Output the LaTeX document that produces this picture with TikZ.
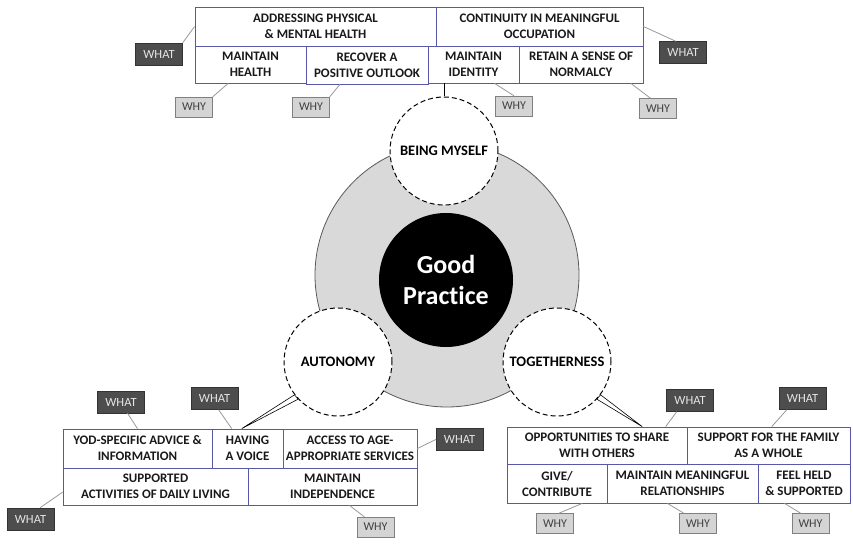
\documentclass[tikz,border=0pt]{standalone}
\usepackage{fontspec}
\setmainfont{Carlito}[Ligatures=NoCommon]
\usetikzlibrary{calc}
\definecolor{cellline}{RGB}{88,88,168}
\definecolor{whatfill}{RGB}{77,77,77}
\definecolor{whyfill}{RGB}{212,212,212}
\definecolor{ringfill}{RGB}{217,217,217}
\tikzset{cell/.style={draw=cellline, line width=0.8pt, fill=white, align=center,
    inner sep=0pt, text=black!90, font=\bfseries\fontsize{13}{16}\selectfont},
  whatbox/.style={draw=black!80, fill=whatfill, text=black!10, minimum width=47pt,
    minimum height=22pt, inner sep=0pt, font=\fontsize{12.5}{14}\selectfont},
  whybox/.style={draw=black!50, fill=whyfill, text=black!75, minimum width=37pt,
    minimum height=20pt, inner sep=0pt, font=\fontsize{12}{14}\selectfont},
  theme/.style={circle, draw, dash pattern=on 5pt off 3pt, line width=1pt, fill=white,
    minimum size=108pt, inner sep=0pt, font=\bfseries\fontsize{14.5}{17}\selectfont},
  link/.style={draw=black!40, line width=0.8pt},
  pointer/.style={draw, fill=white, line width=0.6pt}}

\begin{document}
\begin{tikzpicture}[x=1pt,y=-1pt]
        \useasboundingbox[fill=white] (0,0) rectangle (853,545);
        % rings
        \draw[fill=ringfill, draw=black!65, line width=0.8pt] (447,275) circle (132);
        \node[circle, fill=black, minimum size=134pt, text=white, align=center,
          font=\bfseries\fontsize{26}{31}\selectfont] (good) at (446,280) {Good\\Practice};
        \node[theme] (bm) at (444,151) {BEING MYSELF};
        \node[theme] (auto) at (338,362) {AUTONOMY};
        \node[theme] (tog) at (557,362) {TOGETHERNESS};

        % being myself
        \node[cell, minimum width=241pt, minimum height=39pt] (addr) at (315.5,26.5)
        {ADDRESSING PHYSICAL\\\& MENTAL HEALTH};
        \node[cell, minimum width=207pt, minimum height=39pt] (cont) at (539.5,26.5)
        {CONTINUITY IN MEANINGFUL\\OCCUPATION};
        \node[cell, minimum width=111pt, minimum height=37pt] (mhealth) at (250.5,64.5)
        {MAINTAIN\\HEALTH};
        \node[cell, minimum width=122pt, minimum height=38pt] (recover) at (367,65)
        {RECOVER A\\POSITIVE OUTLOOK};
        \node[cell, minimum width=91pt, minimum height=37pt] (ident) at (473.5,64.5)
        {MAINTAIN\\IDENTITY};
        \node[cell, minimum width=124pt, minimum height=37pt] (normal) at (581,64.5)
        {RETAIN A SENSE OF\\NORMALCY};
        \node[whatbox] (wA) at (159,54) {WHAT};
        \node[whatbox] (wC) at (683,52.5) {WHAT};
        \node[whybox] (yHealth) at (194,107) {WHY};
        \node[whybox] (yRecover) at (311,107) {WHY};
        \node[whybox] (yIdent) at (514,106) {WHY};
        \node[whybox] (yNormal) at (658,108.5) {WHY};
        \draw[link] (wA.north east) -- (addr.west);
        \draw[link] (cont.east) -- ($(wC.north west)!.35!(wC.north east)$);
        \draw[link] (yHealth.north east) -- ($(mhealth.south west)!.3!(mhealth.south east)$);
        \draw[link] (yRecover.north east) -- ($(recover.south west)!.28!(recover.south east)$);
        \draw[link] ($(ident.south west)!.73!(ident.south east)$) -- (yIdent.north);
        \draw[link] ($(normal.south west)!.9!(normal.south east)$) -- ($(yNormal.north west)!.3!(yNormal.north east)$);
        \draw[line width=0.8pt] (bm.north) -- (bm.north |- ident.south);

        % autonomy
        \node[cell, minimum width=149pt, minimum height=39pt] (yod) at (137.5,448.5)
        {YOD-SPECIFIC ADVICE \&\\INFORMATION};
        \node[cell, minimum width=71pt, minimum height=39pt] (voice) at (247.5,448.5)
        {HAVING\\A VOICE};
        \node[cell, draw=black!60, minimum width=134pt, minimum height=39pt] (access) at (350,448.5)
        {ACCESS TO AGE-\\APPROPRIATE SERVICES};
        \node[cell, minimum width=185pt, minimum height=37pt] (adl) at (155.5,486.5)
        {SUPPORTED\\ACTIVITIES OF DAILY LIVING};
        \node[cell, minimum width=169pt, minimum height=37pt] (indep) at (332.5,486.5)
        {MAINTAIN\\INDEPENDENCE};
        \node[whatbox] (wYod) at (121,402) {WHAT};
        \node[whatbox] (wVoice) at (214.5,398.5) {WHAT};
        \node[whatbox] (wAccess) at (459.5,439.5) {WHAT};
        \node[whatbox] (wAdl) at (30.5,519) {WHAT};
        \node[whybox] (yIndep) at (375.5,527) {WHY};
        \draw[link] (wYod.-60) -- (yod.north);
        \draw[link] (wVoice.-70) -- ($(voice.north west)!.28!(voice.north east)$);
        \draw[link] (access.east) -- (wAccess.west);
        \draw[link] ($(wAdl.north)!.4!(wAdl.north east)$) -- ($(adl.west)!.3!(adl.south west)$);
        \draw[link] ($(indep.south west)!.6!(indep.south east)$) -- ($(yIndep.north west)!.2!(yIndep.north east)$);
        \filldraw[pointer] (auto.217) -- ($(voice.north west)!.42!(voice.north east)$) -- (auto.223) -- cycle;

        % togetherness
        \node[cell, minimum width=180pt, minimum height=37pt] (share) at (597,445.5)
        {OPPORTUNITIES TO SHARE\\WITH OTHERS};
        \node[cell, minimum width=163pt, minimum height=37pt] (family) at (768.5,445.5)
        {SUPPORT FOR THE FAMILY\\AS A WHOLE};
        \node[cell, minimum width=100pt, minimum height=39pt] (give) at (557,483.5)
        {GIVE/\\CONTRIBUTE};
        \node[cell, minimum width=151pt, minimum height=39pt] (rel) at (682.5,483.5)
        {MAINTAIN MEANINGFUL\\RELATIONSHIPS};
        \node[cell, minimum width=92pt, minimum height=39pt] (held) at (804,483.5)
        {FEEL HELD\\\& SUPPORTED};
        \node[whatbox] (wShare) at (690,400.5) {WHAT};
        \node[whatbox] (wFamily) at (802.5,398.5) {WHAT};
        \node[whybox] (yGive) at (555,523.5) {WHY};
        \node[whybox] (yRel) at (698,523.5) {WHY};
        \node[whybox] (yHeld) at (810.5,523.5) {WHY};
        \draw[link] ($(wShare.south west)!.22!(wShare.south east)$) -- ($(share.north west)!.88!(share.north east)$);
        \draw[link] ($(wFamily.south west)!.17!(wFamily.south east)$) -- ($(family.north west)!.52!(family.north east)$);
        \draw[link] ($(give.south west)!.75!(give.south east)$) -- ($(yGive.north west)!.6!(yGive.north east)$);
        \draw[link] ($(rel.south west)!.4!(rel.south east)$) -- ($(yRel.north west)!.125!(yRel.north east)$);
        \draw[link] ($(held.south west)!.29!(held.south east)$) -- ($(yHeld.north west)!.24!(yHeld.north east)$);
        \filldraw[pointer] (tog.317) -- ($(share.north west)!.75!(share.north east)$) -- (tog.323) -- cycle;
\end{tikzpicture}
\end{document}
